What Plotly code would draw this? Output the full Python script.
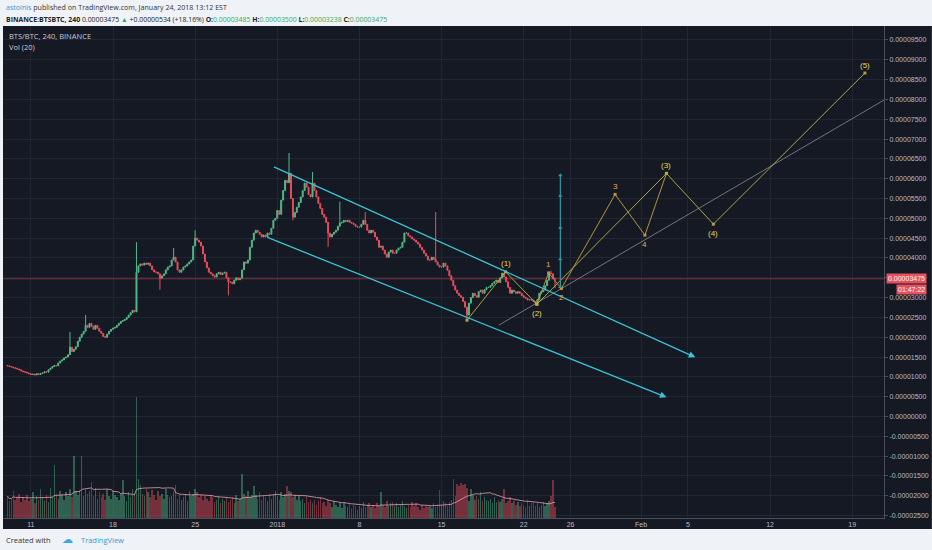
import pandas as pd
import plotly.graph_objects as go

# BINANCE:BTSBTC 4h candles, prices in satoshi (1e-8 BTC)
first_bar = "2017-12-09 00:00"
first_open = 1290

closes = [
    1280, 1260, 1250, 1230, 1220, 1200,   # Dec 9
    1180, 1150, 1130, 1120, 1100, 1080,   # Dec 10
    1060, 1070, 1050, 1080, 1060, 1090,   # Dec 11
    1100, 1130, 1120, 1180, 1220, 1260,   # Dec 12
    1290, 1280, 1350, 1400, 1430, 1480,   # Dec 13
    1500, 1560, 1750, 1640, 1700, 1760,   # Dec 14
    1900, 2000, 2080, 2150, 2300, 2250,   # Dec 15
    2350, 2280, 2200, 2300, 2230, 2150,   # Dec 16
    2100, 2020, 2000, 2080, 2150, 2200,   # Dec 17
    2230, 2250, 2300, 2350, 2400, 2420,   # Dec 18
    2450, 2500, 2560, 2620, 2680, 2640,   # Dec 19
    3640, 3800, 3850, 3820, 3870, 3840,   # Dec 20
    3870, 3800, 3700, 3650, 3640, 3600,   # Dec 21
    3490, 3550, 3600, 3700, 3770, 3800,   # Dec 22
    3950, 4020, 3900, 3700, 3640, 3700,   # Dec 23
    3770, 3800, 3850, 3900, 3950, 4300,   # Dec 24
    4500, 4450, 4400, 4300, 4100, 3900,   # Dec 25
    3750, 3640, 3600, 3550, 3520, 3600,   # Dec 26
    3640, 3580, 3620, 3640, 3500, 3400,   # Dec 27
    3390, 3350, 3440, 3500, 3450, 3490,   # Dec 28
    3700, 3900, 3870, 3950, 4270, 4450,   # Dec 29
    4630, 4700, 4650, 4600, 4530, 4580,   # Dec 30
    4530, 4630, 4600, 4750, 4950, 5000,   # Dec 31
    5200, 5100, 5460, 5700, 5960, 5900,   # Jan 1
    6140, 5500, 5030, 5150, 5280, 5400,   # Jan 2
    5540, 5700, 5890, 5790, 5600, 5540,   # Jan 3
    5890, 5700, 5540, 5380, 5250, 5100,   # Jan 4
    5030, 4900, 4630, 4530, 4600, 4650,   # Jan 5
    4700, 4800, 4880, 4900, 4950, 4920,   # Jan 6
    4950, 4900, 4880, 4850, 4800, 4780,   # Jan 7
    4780, 4850, 4950, 4850, 4700, 4630,   # Jan 8
    4700, 4650, 4530, 4450, 4270, 4300,   # Jan 9
    4200, 4100, 4020, 4150, 4200, 4120,   # Jan 10
    4120, 4200, 4250, 4270, 4400, 4630,   # Jan 11
    4630, 4560, 4530, 4480, 4450, 4400,   # Jan 12
    4350, 4270, 4200, 4120, 4050, 3950,   # Jan 13
    3950, 4020, 3960, 3900, 3820, 3770,   # Jan 14
    3770, 3870, 3800, 3690, 3550, 3440,   # Jan 15
    3300, 3190, 3110, 3050, 3010, 2900,   # Jan 16
    2760, 2560, 2860, 3000, 3110, 3050,   # Jan 17
    3010, 3150, 3190, 3110, 3200, 3260,   # Jan 18
    3260, 3300, 3360, 3400, 3440, 3380,   # Jan 19
    3500, 3620, 3520, 3400, 3260, 3110,   # Jan 20
    3190, 3150, 3110, 3150, 3110, 3050,   # Jan 21
    3010, 2980, 2940, 2950, 2940, 2900,   # Jan 22
    2860, 2950, 3110, 3150, 3190, 3300,   # Jan 23
    3440, 3620, 3600, 3485, 3475,         # Jan 24
]

# relative volume units
volumes = [
    18, 14, 16, 22, 15, 17,  20, 13, 17, 15, 19, 14,
    16, 21, 12, 18, 15, 24,  17, 14, 19, 13, 25, 18,
    44, 20, 16, 22, 19, 15,  21, 18, 24, 17, 51, 22,
    19, 23, 51, 18, 24, 20,  22, 30, 18, 25, 16, 21,
    17, 20, 15, 24, 18, 16,  22, 19, 17, 15, 20, 31,
    18, 14, 21, 17, 24, 20,  100, 32, 27, 20, 18, 24,
    21, 17, 23, 19, 15, 22,  18, 20, 16, 24, 19, 17,
    18, 21, 27, 16, 20, 15,  17, 19, 14, 22, 18, 20,
    24, 21, 17, 19, 15, 18,  16, 14, 19, 17, 13, 15,
    18, 12, 16, 14, 17, 13,  15, 17, 12, 19, 14, 16,
    36, 20, 18, 22, 17, 19,  26, 19, 16, 21, 15, 18,
    17, 14, 20, 16, 19, 22,  18, 15, 21, 17, 20, 26,
    22, 21, 17, 19, 15, 18,  14, 16, 12, 18, 13, 15,
    12, 15, 11, 14, 17, 12,  13, 10, 15, 12, 9, 14,
    11, 9, 12, 8, 13, 10,    9, 12, 8, 11, 10, 7,
    10, 8, 13, 9, 11, 12,    9, 11, 8, 12, 10, 21,
    11, 9, 14, 10, 12, 13,   10, 12, 9, 11, 14, 10,
    8, 11, 9, 13, 10, 12,    9, 7, 11, 8, 10, 9,
    10, 8, 12, 9, 11, 23,    11, 14, 12, 10, 13, 15,
    32, 18, 28, 26, 29, 27,  28, 25, 14, 24, 19, 15,
    18, 16, 21, 14, 17, 15,  14, 16, 12, 17, 13, 15,
    13, 16, 24, 12, 14, 17,  12, 14, 11, 13, 10, 12,
    11, 9, 15, 10, 12, 13,   10, 12, 9, 11, 13, 10,
    12, 14, 18, 31, 9,
]

wick_highs = {
    "2017-12-14 08:00": 2130, "2017-12-15 16:00": 2560, "2017-12-20 00:00": 4400,
    "2017-12-23 04:00": 4250, "2017-12-25 00:00": 4700, "2018-01-02 00:00": 6650,
    "2018-01-04 00:00": 6170, "2018-01-06 08:00": 5420, "2018-01-08 12:00": 5160,
    "2018-01-14 12:00": 5160, "2018-01-24 08:00": 3680, "2018-01-24 16:00": 3500,
}
wick_lows = {
    "2017-12-22 00:00": 3200, "2017-12-27 20:00": 3060, "2018-01-02 08:00": 4950,
    "2018-01-05 08:00": 4280, "2018-01-17 04:00": 2430, "2018-01-23 00:00": 2830,
    "2018-01-24 16:00": 3238,
}

# channel trend lines (start, end)
upper_t = ["2017-12-31 14:00", "2018-02-05 15:00"]
upper_p = [6318, 1496]
lower_t = ["2017-12-31 01:00", "2018-02-03 04:00"]
lower_p = [4533, 486]
gray_t = ["2018-01-19 21:00", "2018-02-21 17:00"]
gray_p = [2304, 7985]

# elliott wave count
wave_names = ["", "(1)", "(2)", "1", "2", "3", "4", "(3)", "(4)", "(5)"]
wave_t = ["2018-01-17 04:00", "2018-01-20 11:00", "2018-01-23 03:00", "2018-01-24 03:00",
          "2018-01-25 05:00", "2018-01-29 19:00", "2018-02-01 08:00", "2018-02-03 04:00",
          "2018-02-07 04:00", "2018-02-20 02:00"]
wave_p = [2430, 3650, 2834, 3624, 3230, 5604, 4576, 6134, 4854, 8667]

measure_t = "2018-01-25 03:00"
measure_p = [3270, 3970, 4760, 5570, 6090]

price_ticks = list(range(-2500, 10000, 500))
time_ticks = ["2017-12-11", "2017-12-18", "2017-12-25", "2018-01-01", "2018-01-08", "2018-01-15",
              "2018-01-22", "2018-01-26", "2018-02-01", "2018-02-05", "2018-02-12", "2018-02-19"]
time_labels = ["11", "18", "25", "2018", "8", "15", "22", "26", "Feb", "5", "12", "19"]

SAT = 1e-8
UP, DOWN = "#53b987", "#eb4d5c"
CYAN = "#3cc4d4"
YEL = "#bfb23e"
ORG = "#c9a23a"
BG = "#151924"
GRID = "#222633"

t = pd.date_range(first_bar, periods=len(closes), freq="4h")
opens = [first_open] + closes[:-1]
highs = [max(o, c) for o, c in zip(opens, closes)]
lows = [min(o, c) for o, c in zip(opens, closes)]
for k, v in wick_highs.items():
    highs[t.get_loc(pd.Timestamp(k))] = v
for k, v in wick_lows.items():
    lows[t.get_loc(pd.Timestamp(k))] = v
vol_colors = ["rgba(83,185,135,0.45)" if c >= o else "rgba(235,77,92,0.45)" for o, c in zip(opens, closes)]
vol_ma = pd.Series(volumes).rolling(20, min_periods=1).mean()


def sat(vals):
    return [v * SAT for v in vals]


# plot area in pixels: x 3..886, y 26..518
def fx(p):
    return (p - 3) / 883


def fy(p):
    return (518 - p) / 492


fig = go.Figure()

fig.add_bar(x=t, y=volumes, marker_color=vol_colors, marker_line_width=0,
            width=4 * 3600 * 1000 * 0.75, yaxis="y2", showlegend=False)
fig.add_scatter(x=t, y=vol_ma, mode="lines", line=dict(color="rgba(225,160,170,0.8)", width=1),
                yaxis="y2", showlegend=False)

fig.add_candlestick(x=t, open=sat(opens), high=sat(highs), low=sat(lows), close=sat(closes),
                    increasing=dict(line=dict(color=UP, width=1), fillcolor=UP),
                    decreasing=dict(line=dict(color=DOWN, width=1), fillcolor=DOWN),
                    whiskerwidth=0, showlegend=False)

# gray fan line
fig.add_scatter(x=gray_t, y=sat(gray_p), mode="lines",
                line=dict(color="rgba(190,190,200,0.55)", width=1), showlegend=False)

# wave lines
major = [0, 1, 2, 7, 8, 9]
minor = [2, 3, 4, 5, 6, 7]
fig.add_scatter(x=[wave_t[i] for i in minor], y=sat([wave_p[i] for i in minor]), mode="lines+markers",
                line=dict(color=ORG, width=1), marker=dict(size=3, symbol="square", color=ORG),
                opacity=0.9, showlegend=False)
fig.add_scatter(x=[wave_t[i] for i in major], y=sat([wave_p[i] for i in major]), mode="lines+markers",
                line=dict(color=YEL, width=1), marker=dict(size=3, symbol="square", color=YEL),
                opacity=0.9, showlegend=False)

# vertical measure
fig.add_scatter(x=[measure_t] * len(measure_p), y=sat(measure_p), mode="lines+markers",
                line=dict(color="#2a9aa6", width=1.2),
                marker=dict(symbol="triangle-up", size=4, color="#2a9aa6"), showlegend=False)

# channel arrows
for ts, ps in [(upper_t, upper_p), (lower_t, lower_p)]:
    fig.add_annotation(x=ts[1], y=ps[1] * SAT, ax=ts[0], ay=ps[0] * SAT, xref="x", yref="y",
                       axref="x", ayref="y", text="", showarrow=True, arrowhead=2, arrowsize=1,
                       arrowwidth=1.3, arrowcolor=CYAN, standoff=0, startstandoff=0)

# wave labels
peaks = {"(1)", "1", "3", "(3)", "(5)"}
for name, tt, pp in zip(wave_names, wave_t, wave_p):
    if not name:
        continue
    color = "#e9d84a" if name.startswith("(") else "#f0a848"
    fig.add_annotation(x=tt, y=pp * SAT, text=name, showarrow=False,
                       yshift=8 if name in peaks else -9,
                       font=dict(size=8, color=color, family="Liberation Sans"))

# last price line
fig.add_shape(type="line", xref="paper", x0=0, x1=1, yref="y", y0=closes[-1] * SAT, y1=closes[-1] * SAT,
              line=dict(color="rgba(235,77,92,0.5)", width=1))

# dark panel behind plot + price scale
fig.add_shape(type="rect", xref="paper", yref="paper", x0=0, x1=fx(934), y0=fy(529), y1=fy(26),
              fillcolor=BG, line_width=0, layer="below")

fig.add_annotation(xref="paper", yref="y", x=fx(888), y=closes[-1] * SAT, xanchor="left",
                   text=f"{closes[-1] * SAT:.8f}", showarrow=False, bgcolor="#e8505e", borderpad=1,
                   font=dict(size=7, color="white", family="Liberation Sans"))
fig.add_annotation(xref="paper", yref="y", x=fx(929), y=closes[-1] * SAT, yshift=-11, xanchor="right",
                   text="01:47:22", showarrow=False, bgcolor="#e8505e", borderpad=1,
                   font=dict(size=7, color="white", family="Liberation Sans"))

# header / footer text
green = "#3aa85c"
fig.add_annotation(xref="paper", yref="paper", x=fx(4), y=fy(7), xanchor="left", yanchor="middle",
                   showarrow=False,
                   text="<span style='color:#2f9bd8'>astoinis</span> published on TradingView.com, "
                        "January 24, 2018 13:12 EST",
                   font=dict(size=7.1, color="#333", family="Open Sans"))
fig.add_annotation(xref="paper", yref="paper", x=fx(4), y=fy(19), xanchor="left", yanchor="middle",
                   showarrow=False,
                   text=f"<b>BINANCE:BTSBTC, 240</b> 0.00003475 <span style='color:{green}'>▲</span> "
                        f"+0.00000534 (+18.16%) <b>O:</b><span style='color:{green}'>0.00003485</span> "
                        f"<b>H:</b><span style='color:{green}'>0.00003500</span> "
                        f"<b>L:</b><span style='color:{green}'>0.00003238</span> "
                        f"<b>C:</b><span style='color:{green}'>0.00003475</span>",
                   font=dict(size=6.9, color="#222", family="Open Sans"))
fig.add_annotation(xref="paper", yref="paper", x=fx(7), y=fy(36), xanchor="left", yanchor="middle",
                   showarrow=False, text="BTS/BTC, 240, BINANCE",
                   font=dict(size=7.5, color="#c8cbd3", family="Open Sans"))
fig.add_annotation(xref="paper", yref="paper", x=fx(7), y=fy(47), xanchor="left", yanchor="middle",
                   showarrow=False, text="Vol (20)",
                   font=dict(size=7.5, color="#c8cbd3", family="Open Sans"))
fig.add_annotation(xref="paper", yref="paper", x=fx(4), y=fy(540), xanchor="left", yanchor="middle",
                   showarrow=False, text="Created with",
                   font=dict(size=7.5, color="#333", family="Open Sans"))
fig.add_annotation(xref="paper", yref="paper", x=fx(60), y=fy(539), xanchor="left", yanchor="middle",
                   showarrow=False, text="☁",
                   font=dict(size=11, color="#3ca8e0", family="DejaVu Sans"))
fig.add_annotation(xref="paper", yref="paper", x=fx(79), y=fy(540), xanchor="left", yanchor="middle",
                   showarrow=False, text="TradingView",
                   font=dict(size=7.5, color="#2f9bd8", family="Open Sans"))

fig.update_layout(
    width=932, height=550,
    margin=dict(l=3, r=46, t=26, b=32),
    paper_bgcolor="#eff2f6", plot_bgcolor=BG,
    bargap=0, showlegend=False,
    xaxis=dict(type="date", range=["2017-12-08 15:00", "2018-02-21 17:00"],
               rangeslider=dict(visible=False),
               tickvals=time_ticks, ticktext=time_labels, ticks="",
               tickfont=dict(size=7, color="#b8bcc6", family="Liberation Sans"),
               showgrid=True, gridcolor=GRID, gridwidth=1,
               showline=True, linecolor="#4a4f5c", zeroline=False),
    yaxis=dict(side="right", range=[-2560 * SAT, 9853 * SAT],
               tickvals=sat(price_ticks), ticktext=[f"{v * SAT:.8f}" for v in price_ticks],
               tickfont=dict(size=7, color="#b8bcc6", family="Liberation Sans"),
               ticks="outside", ticklen=3, tickcolor="#4a4f5c",
               showgrid=True, gridcolor=GRID, gridwidth=1,
               showline=True, linecolor="#4a4f5c", zeroline=False),
    yaxis2=dict(overlaying="y", range=[0, 405], visible=False, showgrid=False),
)

# the page is photographed at exactly the figure size, so drop the default body margin
fig.write_html("out.html", config={"displayModeBar": False},
               post_script="document.body.style.margin='0';")
